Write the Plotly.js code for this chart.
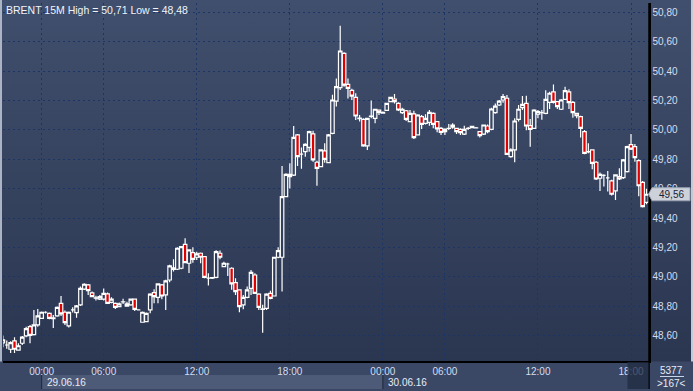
<!DOCTYPE html>
<html><head><meta charset="utf-8">
<script src="https://cdn.plot.ly/plotly-3.0.1.min.js"></script>
<style>
html,body{margin:0;padding:0;background:#c3cad4;}
#chart{width:693px;height:391px;background:linear-gradient(to bottom,#404f6d 0%,#35425e 50%,#29344e 100%);box-shadow:inset 2px 0 0 #aab4c4, inset 0 -2px 0 #c3cad4, inset -2px 0 0 #c3cad4;}
</style></head><body><div id="chart"></div>
<script>
const symbol = "BRENT 15M";
const timeTickBars = [10, 26, 50, 74, 98, 114, 138, 162];
const timeTickLabels = ["00:00","06:00","12:00","18:00","00:00","06:00","12:00","18:00"];
const dayStartBars = [10, 98];
const dayLabels = ["29.06.16", "30.06.16"];
const counterLabel = "5377";
const visibleLabel = ">167<";

const openP = [48.55,48.535,48.506,48.563,48.50,48.547,48.597,48.660,48.606,48.672,
48.717,48.758,48.751,48.72,48.733,48.819,48.758,48.665,48.774,48.756,
48.808,48.915,48.944,48.89,48.857,48.847,48.847,48.883,48.826,48.819,
48.797,48.828,48.80,48.808,48.847,48.774,48.690,48.694,48.774,48.892,
48.860,48.944,48.876,48.978,49.05,49.051,49.058,49.221,49.092,49.165,
49.133,49.160,49.137,48.99,48.99,48.996,49.160,49.069,49.087,49.058,
48.960,48.910,48.808,48.860,48.921,49.012,48.881,48.777,48.785,48.887,
48.869,49.133,49.133,49.546,49.682,49.693,49.966,49.836,49.852,49.882,
49.973,49.780,49.750,49.857,49.777,49.977,50.197,50.288,50.522,50.311,
50.27,50.222,50.08,50.072,49.891,50.093,50.079,50.136,50.115,50.134,
50.193,50.211,50.181,50.118,50.131,50.057,50.109,49.966,50.091,50.045,
50.052,50.113,50.057,50.011,49.989,50.01,50.02,50.011,50.004,49.971,
50.01,50.015,50.014,49.989,49.971,50.027,50.004,50.118,50.17,50.204,
50.216,49.818,49.864,50.072,50.152,50.181,50.029,50.011,50.107,50.118,
50.113,50.188,50.26,50.193,50.141,50.208,50.26,50.188,50.113,50.091,
49.989,49.85,49.864,49.780,49.671,49.69,49.673,49.653,49.585,49.682,
49.675,49.716,49.9,49.886,49.791,49.643,49.507];
const highP = [48.60,48.565,48.56,48.588,48.547,48.597,48.66,48.672,48.774,48.78,
48.763,48.765,48.756,48.74,48.797,48.869,48.77,48.763,48.792,48.808,
48.933,48.956,48.951,48.90,48.87,48.876,48.92,48.892,48.86,48.824,
48.824,48.85,48.83,48.851,48.851,48.777,48.763,48.756,48.887,48.915,
48.956,48.951,48.979,49.081,49.12,49.201,49.21,49.262,49.187,49.201,
49.171,49.165,49.142,49.024,48.995,49.18,49.178,49.103,49.096,49.065,
48.99,48.915,48.876,48.933,49.046,49.024,48.887,48.81,48.887,48.905,
49.137,49.201,49.755,49.705,49.773,50.027,49.973,49.88,49.909,49.995,
49.995,49.791,49.868,49.909,49.973,50.24,50.35,50.71,50.529,50.35,
50.28,50.25,50.102,50.079,50.084,50.20,50.143,50.14,50.125,50.186,
50.227,50.245,50.188,50.152,50.136,50.136,50.131,50.107,50.102,50.107,
50.136,50.120,50.061,50.02,50.011,50.04,50.045,50.015,50.011,50.029,
50.02,50.029,50.02,49.993,50.038,50.038,50.152,50.181,50.204,50.245,
50.238,49.875,50.079,50.17,50.231,50.233,50.075,50.141,50.136,50.136,
50.27,50.261,50.31,50.197,50.211,50.295,50.277,50.197,50.118,50.097,
50.0,49.91,49.868,49.789,49.711,49.698,49.72,49.66,49.698,49.739,
49.803,49.893,49.973,49.905,49.80,49.652,49.60];
const lowP = [48.52,48.51,48.48,48.48,48.495,48.535,48.588,48.547,48.60,48.66,
48.712,48.75,48.71,48.65,48.728,48.733,48.672,48.654,48.756,48.72,
48.801,48.910,48.876,48.862,48.838,48.842,48.838,48.815,48.819,48.78,
48.792,48.815,48.795,48.803,48.767,48.77,48.688,48.69,48.751,48.819,
48.819,48.846,48.774,48.963,49.035,49.046,49.051,49.092,49.026,49.096,
49.114,49.092,48.99,48.94,48.985,48.99,49.119,49.064,49.005,48.912,
48.876,48.758,48.778,48.853,48.876,48.883,48.774,48.619,48.774,48.846,
48.865,49.126,48.899,49.541,49.602,49.686,49.755,49.736,49.818,49.852,
49.784,49.62,49.746,49.777,49.773,49.97,50.16,50.272,50.295,50.215,
50.204,50.068,50.057,49.886,49.864,50.079,50.045,50.102,50.11,50.129,
50.188,50.18,50.129,50.109,50.061,50.052,49.939,49.962,50.007,50.038,
50.029,50.011,49.984,49.966,49.966,50.0,50.009,49.973,49.966,49.966,
50.0,50.011,50.01,49.948,49.966,49.977,49.998,50.111,50.163,50.186,
49.830,49.811,49.78,50.057,50.136,49.998,49.886,50.007,50.079,50.07,
50.107,50.143,50.181,50.143,50.136,50.204,50.143,50.084,50.079,49.948,
49.834,49.841,49.732,49.659,49.584,49.614,49.58,49.553,49.523,49.659,
49.666,49.711,49.864,49.784,49.548,49.471,49.494];
const closeP = [48.57,48.535,48.551,48.506,48.53,48.588,48.647,48.601,48.672,48.733,
48.758,48.758,48.717,48.715,48.792,48.747,48.688,48.758,48.774,48.801,
48.921,48.949,48.906,48.865,48.855,48.865,48.887,48.819,48.847,48.792,
48.815,48.829,48.815,48.847,48.778,48.774,48.758,48.751,48.881,48.865,
48.951,48.869,48.972,49.074,49.06,49.194,49.205,49.096,49.183,49.119,
49.156,49.133,48.996,48.99,48.995,49.171,49.133,49.092,49.087,48.951,
48.899,48.797,48.860,48.910,49.030,48.887,48.792,48.781,48.881,48.853,
49.133,49.178,49.546,49.698,49.698,49.950,49.818,49.836,49.902,49.989,
49.796,49.739,49.864,49.800,49.966,50.204,50.295,50.538,50.306,50.284,
50.23,50.095,50.077,49.891,50.079,50.095,50.141,50.12,50.12,50.181,
50.222,50.193,50.136,50.141,50.072,50.113,49.948,50.102,50.038,50.079,
50.120,50.038,50.007,49.984,50.004,50.011,50.034,49.989,49.982,50.004,
50.011,50.025,50.015,49.961,50.034,49.989,50.143,50.163,50.197,50.227,
49.834,49.864,50.061,50.141,50.175,50.027,50.004,50.136,50.125,50.118,
50.208,50.25,50.188,50.159,50.204,50.268,50.186,50.118,50.097,50.011,
49.841,49.852,49.773,49.666,49.698,49.69,49.673,49.562,49.694,49.666,
49.796,49.886,49.87,49.811,49.62,49.478,49.562];

const n = closeP.length;
const idx = Array.from({length: n}, (_, i) => i);
const fmt = v => v.toFixed(2).replace('.', ',');
const hi = Math.max(...highP), lo = Math.min(...lowP);
const last = closeP[n - 1];

const W = 693, H = 391, mL = 3, mR = 44, mT = 3, mB = 30;
const pw = W - mL - mR, ph = H - mT - mB;
const xr = [0.03, 166.64];
const yr = [48.426, 50.865];
const pxX = px => (px - mL) / pw;
const pxY = py => 1 - (py - mT) / ph;
const xToPaper = i => (i - xr[0]) / (xr[1] - xr[0]);
const dyPerPx = (yr[1] - yr[0]) / ph;

const txt = '#d3def0';
const trace = {
  type: 'candlestick', x: idx, open: openP, high: highP, low: lowP, close: closeP,
  increasing: {line: {color: '#ffffff', width: 1.2}, fillcolor: 'rgba(0,0,0,0)'},
  decreasing: {line: {color: '#ffffff', width: 1.2}, fillcolor: '#e00000'},
  whiskerwidth: 0, hoverinfo: 'skip'
};

const shapes = [];
shapes.push({type:'rect', xref:'paper', yref:'paper', x0: pxX(0), x1: pxX(W), y0: pxY(H), y1: pxY(361.5), fillcolor:'#3a4765', line:{width:0}, layer:'below'});
shapes.push({type:'rect', xref:'paper', yref:'paper', x0: xToPaper(dayStartBars[0]), x1: xToPaper(dayStartBars[1]), y0: pxY(389), y1: pxY(375), fillcolor:'#4d5b79', line:{width:0}, layer:'below'});
dayStartBars.forEach(b => {
  shapes.push({type:'line', xref:'paper', yref:'paper', x0: xToPaper(b), x1: xToPaper(b), y0: pxY(389), y1: pxY(375), line:{color:'#1e2638', width:1}});
});
shapes.push({type:'line', xref:'paper', yref:'paper', x0: 1, x1: 1, y0: pxY(389), y1: 1, line:{color:'#000', width:1.5}});
shapes.push({type:'rect', xref:'paper', yref:'paper', x0: pxX(627.5), x1: pxX(648.5), y0: pxY(389), y1: pxY(362), fillcolor:'rgba(32,42,66,0.75)', line:{width:0}, layer:'above'});
shapes.push({type:'line', xref:'paper', yref:'paper', x0: pxX(660), x1: pxX(684), y0: pxY(376.5), y1: pxY(376.5), line:{color:'#c8d4e8', width:1}});
const bx0 = pxX(652), bx1 = pxX(690), ptx = pxX(648.5);
const yh = 6.5 * dyPerPx;
shapes.push({type:'path', xref:'paper', yref:'y',
  path: `M ${ptx},${last} L ${bx0},${last + yh} L ${bx1},${last + yh} L ${bx1},${last - yh} L ${bx0},${last - yh} Z`,
  fillcolor:'#cdd2da', line:{color:'#9aa3b2', width:1}});

const annotations = [];
annotations.push({xref:'paper', yref:'paper', x: pxX(4), y: pxY(2), xanchor:'left', yanchor:'top', showarrow:false,
  text: `${symbol} High = ${fmt(hi)} Low = ${fmt(lo)}`, font:{family:'Liberation Sans, Arial, sans-serif', size:10.5, color:'#f0f4fa'}});
dayStartBars.forEach((b, k) => annotations.push({xref:'x', yref:'paper', x: b, y: pxY(382), xanchor:'left', yanchor:'middle', xshift: 3, showarrow:false,
  text: dayLabels[k], font:{family:'Liberation Sans, Arial, sans-serif', size:10, color:'#e6ecf6'}}));
annotations.push({xref:'paper', yref:'paper', x: pxX(671.5), y: pxY(370), xanchor:'center', yanchor:'middle', showarrow:false,
  text: counterLabel, font:{family:'Liberation Sans, Arial, sans-serif', size:10, color:'#e6ecf6'}});
annotations.push({xref:'paper', yref:'paper', x: pxX(671.5), y: pxY(383), xanchor:'center', yanchor:'middle', showarrow:false,
  text: visibleLabel, font:{family:'Liberation Sans, Arial, sans-serif', size:10, color:'#e6ecf6'}});
annotations.push({xref:'paper', yref:'y', x: pxX(671), y: last, xanchor:'center', yanchor:'middle', showarrow:false,
  text: fmt(last), font:{family:'Liberation Sans, Arial, sans-serif', size:10, color:'#1a2233'}});

const layout = {
  width: W, height: H, margin: {l: mL, r: mR, t: mT, b: mB, pad: 0},
  paper_bgcolor: 'rgba(0,0,0,0)', plot_bgcolor: 'rgba(0,0,0,0)',
  showlegend: false, separators: ', ', boxgap: 0, boxgroupgap: 0.1,
  font: {family: 'Liberation Sans, Arial, sans-serif', size: 10, color: txt},
  xaxis: {range: xr, type: 'linear', rangeslider: {visible: false},
    tickmode: 'array', tickvals: timeTickBars, ticktext: timeTickLabels,
    showgrid: true, gridcolor: '#1b3566', gridwidth: 1, griddash: '2px,3px',
    showline: true, linecolor: '#000', linewidth: 1.5, ticks: '', zeroline: false,
    tickfont: {size: 10, color: txt}, fixedrange: true},
  yaxis: {range: yr, side: 'right', dtick: 0.2, tick0: 0, tickformat: '.2f',
    showgrid: true, gridcolor: '#1b3566', gridwidth: 1, griddash: '2px,3px',
    showline: true, linecolor: '#000', linewidth: 1.5, ticks: '', zeroline: false,
    tickfont: {size: 10, color: txt}, fixedrange: true},
  shapes, annotations
};
Plotly.newPlot('chart', [trace], layout, {displayModeBar: false, staticPlot: true});
</script></body></html>
